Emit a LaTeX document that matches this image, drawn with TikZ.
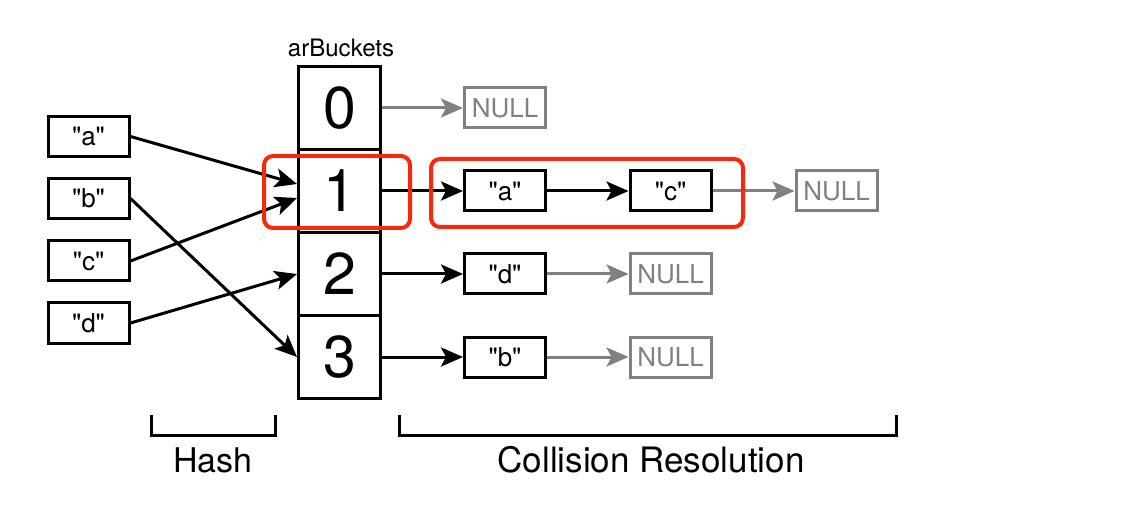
\documentclass[tikz,border=0pt]{standalone}
\usepackage{fontspec}
\setmainfont{TeX Gyre Heros}[Ligatures=TeXOff]
\usetikzlibrary{arrows.meta}
\definecolor{hlred}{RGB}{250,40,10}
\definecolor{nullgray}{RGB}{128,128,128}
\begin{document}
\begin{tikzpicture}[x=1pt,y=-1pt,
  box/.style={draw,line width=3pt,minimum width=81pt,minimum height=40pt,inner sep=0pt,font=\fontsize{26}{30}\selectfont},
  nullbox/.style={box,draw=nullgray,text=nullgray},
  cell/.style={draw,line width=3pt,minimum width=82pt,minimum height=83pt,inner sep=0pt,font=\fontsize{59}{60}\selectfont},
  arr/.style={line width=3pt,-{Stealth[length=22pt,width=19pt,inset=5pt]}},
  garr/.style={arr,draw=nullgray},
  hl/.style={draw=hlred,line width=4pt,rounded corners=9pt},
  brk/.style={line width=3pt},
  lbl/.style={inner sep=0pt}
]
\useasboundingbox (0,0) rectangle (1126,510);

% keys
\node[box] (ka) at (88.5,136.5) {"a"};
\node[box] (kb) at (88.5,198.5) {"b"};
\node[box] (kc) at (88.5,261) {"c"};
\node[box] (kd) at (88.5,323) {"d"};

% buckets
\node[lbl,font=\fontsize{24}{28}\selectfont] (title) at (341,48) {arBuckets};
\node[cell] (b0) at (339.5,108) {0};
\node[cell] (b1) at (339.5,191) {1};
\node[cell] (b2) at (339.5,274) {2};
\node[cell] (b3) at (339.5,357) {3};

% chains
\node[nullbox] (n0) at (505,108) {NULL};
\node[box] (ca) at (505,191) {"a"};
\node[box] (cc) at (670.5,191) {"c"};
\node[nullbox] (n1) at (836.5,191) {NULL};
\node[box] (cd) at (505,274) {"d"};
\node[nullbox] (n2) at (670.5,274) {NULL};
\node[box] (cb) at (505,357) {"b"};
\node[nullbox] (n3) at (670.5,357) {NULL};

% hash arrows
\draw[arr] (ka.east) -- ([yshift=7pt]b1.west);
\draw[arr] (kc.east) -- ([yshift=-7pt]b1.west);
\draw[arr] (kb.east) -- (b3.west);
\draw[arr] (kd.east) -- (b2.west);

% chain arrows
\draw[garr] (b0.east) -- (n0.west);
\draw[arr] (b1.east) -- (ca.west);
\draw[arr] (ca.east) -- (cc.west);
\draw[garr] (cc.east) -- (n1.west);
\draw[arr] (b2.east) -- (cd.west);
\draw[garr] (cd.east) -- (n2.west);
\draw[arr] (b3.east) -- (cb.west);
\draw[garr] (cb.east) -- (n3.west);

% highlights
\draw[hl] (264,156) rectangle (410,228);
\draw[hl] (431,159) rectangle (743,227);

% brackets
\draw[brk] (151,415) -- (151,435.5) -- (275,435.5) -- (275,415);
\draw[brk] (399.5,415) -- (399.5,435.5) -- (896.5,435.5) -- (896.5,415);
\node[lbl,font=\fontsize{34}{40}\selectfont] (hash) at (213,460) {Hash};
\node[lbl,font=\fontsize{35}{40}\selectfont] (coll) at (651,460) {Collision Resolution};
\end{tikzpicture}
\end{document}
